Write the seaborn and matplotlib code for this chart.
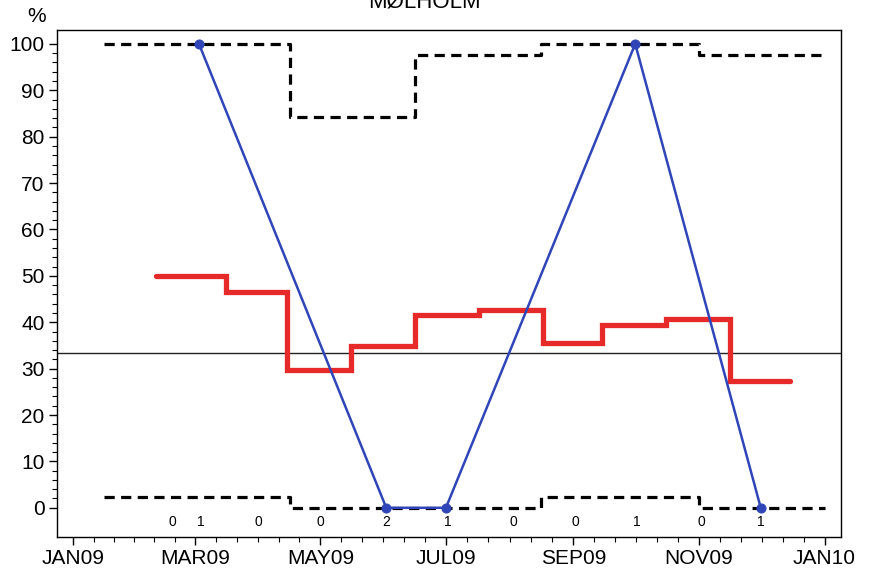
import numpy as np
import pandas as pd
import matplotlib
matplotlib.use('Agg')
import matplotlib.pyplot as plt
import matplotlib.dates as mdates
import seaborn as sns

# data
red_edges = ['2009-02-10', '2009-03-16', '2009-04-15', '2009-05-16', '2009-06-16', '2009-07-17',
             '2009-08-17', '2009-09-15', '2009-10-16', '2009-11-16', '2009-12-15']
red_values = [50, 46.5, 29.7, 34.9, 41.6, 42.7, 35.5, 39.3, 40.8, 27.4]

limit_edges = ['2009-01-16', '2009-04-16', '2009-06-16', '2009-08-16', '2009-11-01', '2010-01-01']
upper_limit = [100, 84.3, 97.6, 100, 97.6]
lower_limit = [2.3, 0, 0, 2.3, 0]

blue_dates = ['2009-03-03', '2009-06-02', '2009-07-01', '2009-10-01', '2009-12-01']
blue_values = [100, 0, 0, 100, 0]

count_dates = ['2009-02-18', '2009-03-04', '2009-04-01', '2009-05-01', '2009-06-02', '2009-07-02',
               '2009-08-03', '2009-09-02', '2009-10-02', '2009-11-02', '2009-12-01']
count_labels = ['0', '1', '0', '0', '2', '1', '0', '0', '1', '0', '1']

center_line = 33.4

x_tick_dates = ['2009-01-01', '2009-03-01', '2009-05-01', '2009-07-01', '2009-09-01',
                '2009-11-01', '2010-01-01']
x_tick_labels = ['JAN09', 'MAR09', 'MAY09', 'JUL09', 'SEP09', 'NOV09', 'JAN10']
y_ticks = list(range(0, 101, 10))

sns.set_style('ticks')
plt.rcParams['font.family'] = ['Liberation Sans Narrow', 'Liberation Sans', 'DejaVu Sans']
plt.rcParams['text.color'] = 'black'
plt.rcParams['xtick.color'] = 'black'
plt.rcParams['ytick.color'] = 'black'
plt.rcParams['xtick.labelcolor'] = 'black'
plt.rcParams['ytick.labelcolor'] = 'black'

fig = plt.figure(figsize=(8.74, 5.74), dpi=100)
ax = fig.add_axes([57 / 874, 1 - 537 / 574, 784 / 874, 507 / 574])

# step series: repeat last value so the final segment is drawn
red_df = pd.DataFrame({'date': pd.to_datetime(red_edges), 'pct': red_values + [red_values[-1]]})
lim_df = pd.DataFrame({'date': pd.to_datetime(limit_edges),
                       'upper': upper_limit + [upper_limit[-1]],
                       'lower': lower_limit + [lower_limit[-1]]})
blue_df = pd.DataFrame({'date': pd.to_datetime(blue_dates), 'pct': blue_values})

ax.axhline(center_line, color='#222222', lw=1.0, zorder=1)

for col in ['upper', 'lower']:
    sns.lineplot(data=lim_df, x='date', y=col, ax=ax, color='black', lw=2.3,
                 drawstyle='steps-post', dashes=False, estimator=None, sort=False)
for line in ax.lines[1:]:
    line.set_dashes((3.2, 2.0))

sns.lineplot(data=red_df, x='date', y='pct', ax=ax, color='#e62a2a', lw=3.8,
             drawstyle='steps-post', estimator=None, sort=False,
             solid_capstyle='round', solid_joinstyle='miter')

sns.lineplot(data=blue_df, x='date', y='pct', ax=ax, color='#2f45b8', lw=1.8,
             marker='o', markersize=6.5, markeredgecolor='#2f45b8', estimator=None, sort=False)

for d, lab in zip(pd.to_datetime(count_dates), count_labels):
    ax.text(d, -3.0, lab, ha='center', va='center', fontsize=10, color='black')

# axes
ax.set_xlim(pd.Timestamp('2008-12-24'), pd.Timestamp('2010-01-09'))
ax.set_ylim(-6.3, 103)
major = mdates.date2num(pd.to_datetime(x_tick_dates))
ax.set_xticks(major)
ax.set_xticklabels(x_tick_labels, fontsize=15)
minor = np.concatenate([np.linspace(a, b, 7)[1:-1] for a, b in zip(major[:-1], major[1:])])
ax.set_xticks(minor, minor=True)
ax.set_yticks(y_ticks)
ax.set_yticklabels([str(v) for v in y_ticks], fontsize=15)
ax.set_yticks(np.arange(0, 101, 2), minor=True)
ax.tick_params(axis='both', which='major', direction='out', length=6, width=1, color='black', pad=3)
ax.tick_params(axis='both', which='minor', direction='out', length=3.5, width=0.8, color='black')
ax.set_xlabel('')
ax.set_ylabel('')
for s in ax.spines.values():
    s.set_visible(True)
    s.set_color('black')
    s.set_linewidth(1.0)

fig.text(37 / 874, 1 - 17 / 574, '%', ha='center', va='center', fontsize=15)
# title sits mostly above the top edge in the reference
fig.text(424 / 874, 1 - 8 / 574, 'MØLHOLM', ha='center', va='baseline', fontsize=16)

fig.savefig('out.png', dpi=100)
